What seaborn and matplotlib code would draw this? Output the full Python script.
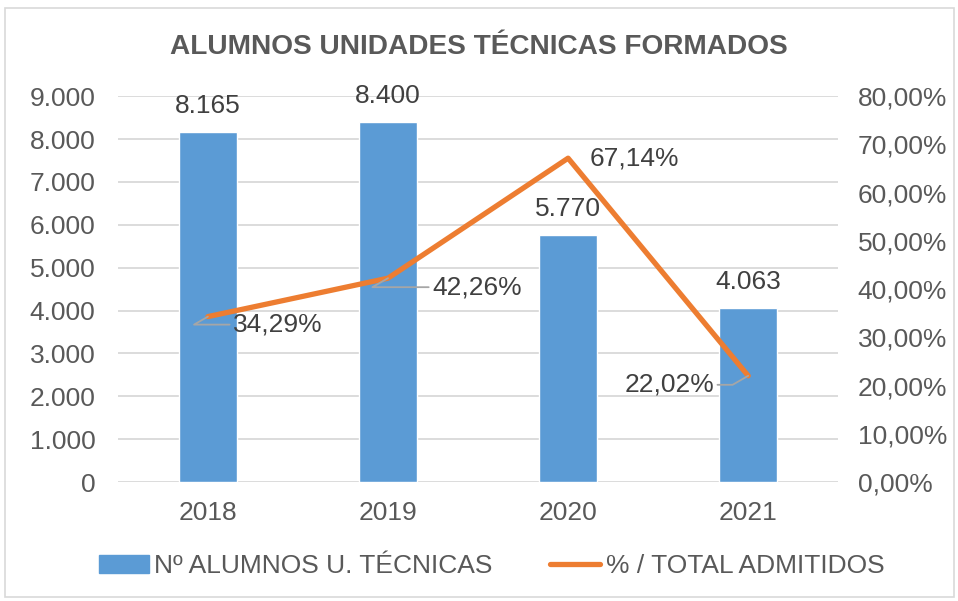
import matplotlib
matplotlib.use("Agg")
import matplotlib.pyplot as plt
import matplotlib.ticker as mticker
from matplotlib.patches import Rectangle
from matplotlib.lines import Line2D
import numpy as np
import pandas as pd
import seaborn as sns

# Data
years = ["2018", "2019", "2020", "2021"]
alumnos = [8165, 8400, 5770, 4063]
pct_admitidos = [34.29, 42.26, 67.14, 22.02]

bar_label = "Nº ALUMNOS U. TÉCNICAS"
line_label = "% / TOTAL ADMITIDOS"
title = "ALUMNOS UNIDADES TÉCNICAS FORMADOS"

df = pd.DataFrame({"year": years, "alumnos": alumnos, "pct": pct_admitidos})

sns.set_theme(style="white")
plt.rcParams["font.family"] = ["Liberation Sans", "DejaVu Sans"]

blue = "#5B9BD5"
orange = "#ED7D31"
txt = "#595959"
lbl = "#404040"
grid = "#D9D9D9"
fs = 19

fig = plt.figure(figsize=(9.58, 6.01), dpi=100)
ax = fig.add_axes([0.123, 0.198, 0.752, 0.642])

sns.barplot(data=df, x="year", y="alumnos", color=blue, width=0.32,
            saturation=1, ax=ax, zorder=2)
ax.set_ylim(0, 9000)
ax.set_xlim(-0.5, 3.5)
ax.yaxis.set_major_locator(mticker.MultipleLocator(1000))
ax.yaxis.set_major_formatter(mticker.FuncFormatter(
    lambda v, p: f"{int(v):,}".replace(",", ".")))
ax.grid(axis="y", color=grid, lw=1.3, zorder=0)
ax.set_axisbelow(True)
ax.set_xlabel("")
ax.set_ylabel("")
ax.tick_params(axis="y", length=0, pad=16, labelsize=fs, labelcolor=txt)
ax.tick_params(axis="x", length=0, pad=14, labelsize=fs, labelcolor=txt)
for s in ax.spines.values():
    s.set_visible(False)

# bar labels
for i, v in enumerate(alumnos):
    ax.annotate(f"{v:,}".replace(",", "."), (i, v), xytext=(0, 14),
                textcoords="offset pixels", ha="center", va="bottom",
                fontsize=fs, color=lbl)

ax2 = ax.twinx()
sns.lineplot(x=np.arange(len(years)), y=np.array(pct_admitidos) / 100,
             color=orange, lw=3.8, ax=ax2, zorder=3)
ax2.set_ylim(0, 0.8)
ax2.yaxis.set_major_locator(mticker.MultipleLocator(0.1))
ax2.yaxis.set_major_formatter(mticker.FuncFormatter(
    lambda v, p: f"{v * 100:.2f}%".replace(".", ",")))
ax2.tick_params(axis="y", length=0, pad=14, labelsize=fs, labelcolor=txt)
ax2.set_ylabel("")
for s in ax2.spines.values():
    s.set_visible(False)

# line labels with leader lines
offsets = [(25, -8, "left", True), (44, -9, "left", True),
           (22, 0, "left", False), (-34, -9, "right", True)]
for i, (p, (dx, dy, ha, leader)) in enumerate(zip(pct_admitidos, offsets)):
    ap = dict(arrowstyle="-", color="#A6A6A6", lw=1.3,
              connectionstyle="angle,angleA=0,angleB=30,rad=0",
              shrinkA=0, shrinkB=0) if leader else None
    ax2.annotate(f"{p:.2f}%".replace(".", ","), (i, p / 100),
                 xytext=(dx, dy), textcoords="offset pixels",
                 ha=ha, va="center", fontsize=fs, color=lbl,
                 arrowprops=ap, zorder=4)

fig.text(0.5, 1 - 47 / 601, title, ha="center", va="center",
         fontsize=20.2, fontweight="bold", color=txt)

handles = [Rectangle((0, 0), 1, 1, color=blue),
           Line2D([0], [0], color=orange, lw=3.8)]
fig.legend(handles, [bar_label, line_label], loc="center", ncol=2,
           bbox_to_anchor=(0.513, 1 - 566 / 601), frameon=False,
           fontsize=fs, labelcolor=txt, handlelength=1.9,
           handletextpad=0.2, columnspacing=2.2)

fig.add_artist(Rectangle((5 / 958, 4 / 601), 949 / 958, 589 / 601,
                         transform=fig.transFigure, fill=False,
                         edgecolor=grid, lw=1.2))

fig.savefig("out.png", dpi=100)
